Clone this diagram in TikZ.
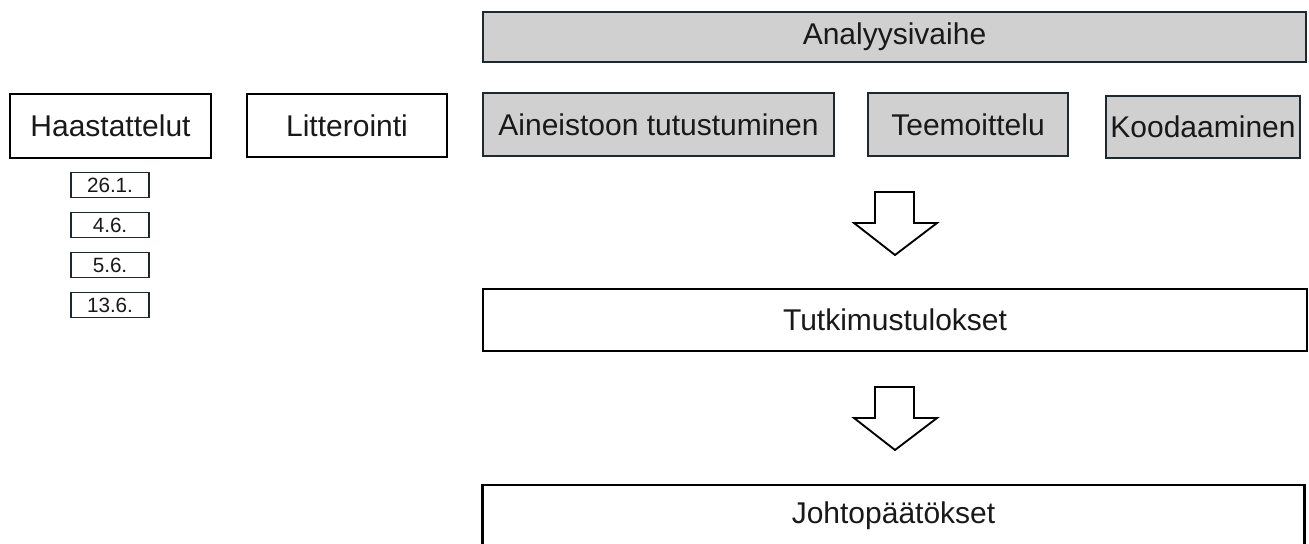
\documentclass[tikz,border=0pt]{standalone}
\usepackage{fontspec}
\setmainfont{Liberation Sans}
\usepackage{xcolor}

\definecolor{boxgrey}{RGB}{208,208,208}
\definecolor{edgedark}{RGB}{30,40,45}
\definecolor{txtdark}{RGB}{25,25,25}

\tikzset{
	wbox/.style 2 args={draw=black, line width=1.8pt, fill=white, inner sep=0pt, minimum width=#1*0.75pt, minimum height=#2*0.75pt, font=\fontsize{22.5}{27}\selectfont, text=txtdark},
	gbox/.style 2 args={wbox={#1}{#2}, draw=edgedark, fill=boxgrey},
	datebox/.style={draw=edgedark, line width=1.4pt, fill=white, inner sep=0pt, minimum width=58.5pt, minimum height=18.75pt, font=\fontsize{15.5}{18}\selectfont, text=txtdark},
	blockarrow/.style={draw=black, line width=1.4pt, fill=white, line join=miter}
}

\begin{document}
\begin{tikzpicture}[x=0.75pt,y=0.75pt,yscale=-1,xscale=1]
	%set diagram left start at 0, and has height of 543
	\useasboundingbox (0,0) rectangle (1309,543);

	% Left column
	\node (haast) [wbox={201}{64}] at (110.5,126) {Haastattelut};
	\node (litt) [wbox={200}{63}] at (347,125.5) {Litterointi};
	% Dates
	\foreach \d [count=\i] in {26.1.,4.6.,5.6.,13.6.}
		\node (date\i) [datebox] at (110,145+40*\i) {\d};

	% Analysis phase
	\node (analyysi) [gbox={823}{50}] at (894.5,37) {Analyysivaihe};
	\node (aine) [gbox={351}{63}] at (658.5,124.5) {Aineistoon tutustuminen};
	\node (teema) [gbox={200}{63}] at (968,124.5) {Teemoittelu};
	\node (kooda) [gbox={194}{62}] at (1203,127) {Koodaaminen};

	% Results
	\node (tulos) [wbox={824}{62}] at (895,320) {Tutkimustulokset};
	\node (johto) [wbox={822}{62}] at (893.5,516) {Johtopäätökset};

	% Block arrows
	\coordinate (arrA) at (895,192);
	\coordinate (arrB) at (895,387);
	\foreach \a in {arrA,arrB}
		\draw [blockarrow] (\a) ++(-20,0) -- ++(39,0) -- ++(0,31) -- ++(23,0) -- ++(-42,32) -- ++(-41,-32) -- ++(21,0) -- cycle;

\end{tikzpicture}
\end{document}
